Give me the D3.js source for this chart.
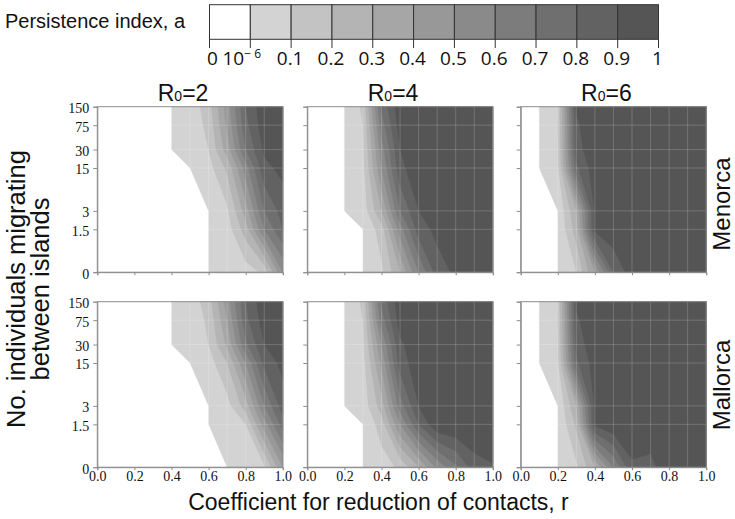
<!DOCTYPE html>
<html><head><meta charset="utf-8">
<script src="https://cdn.jsdelivr.net/npm/d3@7"></script>
<style>
body{margin:0;background:#fff;}
svg{display:block;}
</style></head><body>
<svg id="chart" width="735" height="519"></svg>
<script>
// ---------------- data ----------------
const rValues = [0,0.1,0.2,0.3,0.4,0.5,0.6,0.7,0.8,0.9,1.0];
const migrants = [150,75,30,15,3,1.5,0];            // rows, top to bottom
const migrantTickLabels = ["150","75","30","15","3","1.5","0"];
const xTickValues = [0,0.2,0.4,0.6,0.8,1.0];
const r0Values = ["2","4","6"];
const islands = ["Menorca","Mallorca"];
const thresholds = [1e-6,0.1,0.2,0.3,0.4,0.5,0.6,0.7,0.8,0.9];
const legendLabels = ["0","10-6","0.1","0.2","0.3","0.4","0.5","0.6","0.7","0.8","0.9","1"];
const bandColors = ["#ffffff","#d3d3d3","#c3c3c3","#b4b4b4","#a6a6a6","#989898","#8a8a8a","#7c7c7c","#6f6f6f","#626262","#555555"];

// persistence index a(r, m); rows = migrants (150 ... 0), cols = rValues
const menorcaR02 = [
  [0,0,0,0,0,0.04,0.15,0.45,0.80,0.97,1.00],
  [0,0,0,0,0,0.03,0.13,0.42,0.77,0.96,1.00],
  [0,0,0,0,0,0.03,0.10,0.35,0.70,0.92,0.98],
  [0,0,0,0,0,0,0.06,0.22,0.55,0.87,0.93],
  [0,0,0,0,0,0,0,0.08,0.35,0.70,0.84],
  [0,0,0,0,0,0,0,0.05,0.25,0.60,0.80],
  [0,0,0,0,0,0,0,0.02,0.05,0.12,0.50]
];
const menorcaR04 = [
  [0,0,0,0.12,0.72,0.97,0.99,1,1,1,1],
  [0,0,0,0.10,0.65,0.95,0.99,1,1,1,1],
  [0,0,0,0.08,0.55,0.90,0.98,1,1,1,1],
  [0,0,0,0.07,0.50,0.87,0.97,0.99,1,1,1],
  [0,0,0,0.04,0.30,0.70,0.90,0.96,0.98,0.99,1],
  [0,0,0,0,0.15,0.55,0.85,0.93,0.96,0.98,0.99],
  [0,0,0,0,0.08,0.30,0.60,0.85,0.92,0.97,0.99]
];
const menorcaR06 = [
  [0,0,0.10,0.92,1,1,1,1,1,1,1],
  [0,0,0.10,0.88,0.99,1,1,1,1,1,1],
  [0,0,0.09,0.86,0.97,1,1,1,1,1,1],
  [0,0,0.08,0.78,0.96,0.99,1,1,1,1,1],
  [0,0,0,0.30,0.92,0.98,0.99,1,1,1,1],
  [0,0,0,0.25,0.93,0.98,0.99,1,1,1,1],
  [0,0,0,0.10,0.40,0.80,0.96,0.99,1,1,1]
];
const mallorcaR02 = [
  [0,0,0,0,0,0.04,0.15,0.45,0.80,0.97,1.00],
  [0,0,0,0,0,0.03,0.12,0.40,0.77,0.95,1.00],
  [0,0,0,0,0,0.03,0.10,0.32,0.68,0.90,0.97],
  [0,0,0,0,0,0,0.05,0.20,0.50,0.83,0.93],
  [0,0,0,0,0,0,0,0.06,0.25,0.60,0.85],
  [0,0,0,0,0,0,0,0.04,0.10,0.45,0.75],
  [0,0,0,0,0,0,0,0,0.03,0.08,0.40]
];
const mallorcaR04 = [
  [0,0,0,0.12,0.72,0.97,0.99,1,1,1,1],
  [0,0,0,0.10,0.65,0.95,0.99,1,1,1,1],
  [0,0,0,0.08,0.50,0.88,0.97,1,1,1,1],
  [0,0,0,0.06,0.42,0.85,0.96,0.99,1,1,1],
  [0,0,0,0.04,0.25,0.65,0.90,0.97,0.99,1,1],
  [0,0,0,0,0.15,0.50,0.80,0.99,1,1,1],
  [0,0,0,0,0.05,0.12,0.30,0.52,0.68,0.85,0.89]
];
const mallorcaR06 = [
  [0,0,0.10,0.92,1,1,1,1,1,1,1],
  [0,0,0.10,0.88,0.99,1,1,1,1,1,1],
  [0,0,0.09,0.84,0.97,1,1,1,1,1,1],
  [0,0,0.08,0.78,0.95,0.99,1,1,1,1,1],
  [0,0,0,0.30,0.92,0.97,0.99,1,1,1,1],
  [0,0,0,0.22,0.92,0.99,0.99,0.99,1,1,1],
  [0,0,0,0.08,0.30,0.60,0.88,0.86,0.98,0.99,1]
];
const panelData = [
  [menorcaR02, menorcaR04, menorcaR06],
  [mallorcaR02, mallorcaR04, mallorcaR06]
];

// ---------------- layout ----------------
const svg = d3.select("#chart");
const SANS = "'Liberation Sans', Arial, Helvetica, sans-serif";
const SERIF = "'Liberation Serif', 'Times New Roman', serif";
const colLeft = [97.3, 307.3, 520.7];
const rowTop = [106.7, 301.7];
const PW = 185.5, PH = 165.5;
const ZERO_AT = 0.3;   // where "0" sits on the log axis

function drawPanel(g, values, showYLabels, showXLabels) {
  const x = d3.scaleLinear().domain([0,1]).range([0,PW]);
  const y = d3.scaleLog().domain([ZERO_AT,150]).range([PH,0]);
  const mPos = m => y(m === 0 ? ZERO_AT : m);
  const rowPos = migrants.map(mPos);
  const colPos = rValues.map(x);
  const interp = (arr, c) => {
    const t = Math.max(0, Math.min(arr.length-1, c-0.5));
    const i = Math.min(arr.length-2, Math.floor(t));
    return arr[i] + (arr[i+1]-arr[i])*(t-i);
  };
  const proj = d3.geoTransform({point(px,py){ this.stream.point(interp(colPos,px), interp(rowPos,py)); }});
  const path = d3.geoPath(proj);
  const contours = d3.contours()
    .size([rValues.length, migrants.length])
    .thresholds(thresholds)(values.flat());

  g.append("rect").attr("width",PW).attr("height",PH).attr("fill","#fff");
  g.selectAll("path.band").data(contours).join("path")
    .attr("class","band").attr("d", path)
    .attr("fill",(d,i)=>bandColors[i+1])
    .attr("stroke",(d,i)=>bandColors[i+1]).attr("stroke-width",0.3);

  // grid
  const grid = g.append("g").attr("stroke","#fff").attr("stroke-opacity",0.18).attr("stroke-width",1);
  grid.selectAll("line.v").data(rValues.slice(1,-1)).join("line")
    .attr("x1",d=>x(d)).attr("x2",d=>x(d)).attr("y1",0).attr("y2",PH);
  grid.selectAll("line.h").data(migrants.slice(1,-1)).join("line")
    .attr("y1",d=>mPos(d)).attr("y2",d=>mPos(d)).attr("x1",0).attr("x2",PW);

  // frame
  g.append("rect").attr("width",PW).attr("height",PH).attr("fill","none")
    .attr("stroke","#8c8c8c").attr("stroke-width",1);

  // axes
  const yAxis = d3.axisLeft(y)
    .tickValues(migrants.map(m => m === 0 ? ZERO_AT : m))
    .tickFormat((d,i)=> showYLabels ? migrantTickLabels[i] : "")
    .tickSize(4).tickPadding(4);
  const ya = g.append("g").call(yAxis);
  const xAxis = d3.axisBottom(x).tickValues(xTickValues)
    .tickFormat(d => showXLabels ? d3.format(".1f")(d) : "")
    .tickSize(3).tickPadding(1);
  const xa = g.append("g").attr("transform",`translate(0,${PH})`).call(xAxis);
  [ya, xa].forEach(a => {
    a.select(".domain").attr("stroke","#8c8c8c");
    a.selectAll(".tick line").attr("stroke","#8c8c8c");
    a.selectAll(".tick text").attr("fill","#111").style("font-family",SERIF).style("font-size","14px");
  });
  ya.selectAll(".tick text").attr("dy","0.42em");
}

panelData.forEach((row, ri) => {
  row.forEach((vals, ci) => {
    const g = svg.append("g").attr("transform",`translate(${colLeft[ci]},${rowTop[ri]})`);
    drawPanel(g, vals, ci === 0, ri === 1);
  });
});

// column titles
r0Values.forEach((v, ci) => {
  const t = svg.append("text").attr("x", colLeft[ci] + PW/2 - 7).attr("y", 100.7)
    .attr("text-anchor","middle").style("font-family",SANS).style("font-size","23px").attr("fill","#111");
  t.append("tspan").text("R");
  t.append("tspan").text("0").style("font-size","14px");
  t.append("tspan").text("=" + v);
});

// row labels
const rowLabelY = [204, 385];
islands.forEach((name, ri) => {
  svg.append("text").attr("transform",`translate(730,${rowLabelY[ri]}) rotate(-90)`)
    .attr("text-anchor","middle").style("font-family",SANS).style("font-size","24px").attr("fill","#111")
    .text(name);
});

// axis titles
svg.append("text").attr("x", 378.5).attr("y", 510).attr("text-anchor","middle")
  .style("font-family",SANS).style("font-size","23px").attr("fill","#111")
  .text("Coefficient for reduction of contacts, r");
const yt = svg.append("text").attr("transform","translate(0,289) rotate(-90)")
  .attr("text-anchor","middle").style("font-family",SANS).style("font-size","25.5px").attr("fill","#111");
yt.append("tspan").attr("x",0).attr("y",25).text("No. individuals migrating");
yt.append("tspan").attr("x",0).attr("y",49).text("between islands");

// ---------------- legend ----------------
const lx = d3.scaleLinear().domain([0, bandColors.length]).range([209.5, 658.5]);
const LT = 4.7, LB = 39.3;
const lg = svg.append("g");
lg.selectAll("rect").data(bandColors).join("rect")
  .attr("x",(d,i)=>lx(i)).attr("y",LT).attr("width",(d,i)=>lx(i+1)-lx(i)).attr("height",LB-LT)
  .attr("fill",d=>d).attr("stroke","#333").attr("stroke-width",1);
lg.selectAll("line").data(legendLabels).join("line")
  .attr("x1",(d,i)=>lx(i)).attr("x2",(d,i)=>lx(i)).attr("y1",LB).attr("y2",48)
  .attr("stroke","#333").attr("stroke-width",1);
const LFONT = "'Liberation Sans Narrow', 'Open Sans', 'Noto Sans', sans-serif";
legendLabels.forEach((lab, i) => {
  const t = lg.append("text").attr("y",65).style("font-family",LFONT).style("font-size","19px").attr("fill","#111");
  if (lab === "10-6") {
    t.attr("x", 222.5).attr("text-anchor","start");
    t.append("tspan").text("10");
    t.append("tspan").text("\u2212 6").attr("dy",-7).style("font-size","12px");
  } else {
    t.attr("x", lx(i) + (i===0 ? 3 : -1)).attr("text-anchor","middle").text(lab);
  }
});
svg.append("text").attr("x",5).attr("y",28).style("font-family",SANS).style("font-size","20px")
  .attr("fill","#111").text("Persistence index, a");
</script>
</body></html>
